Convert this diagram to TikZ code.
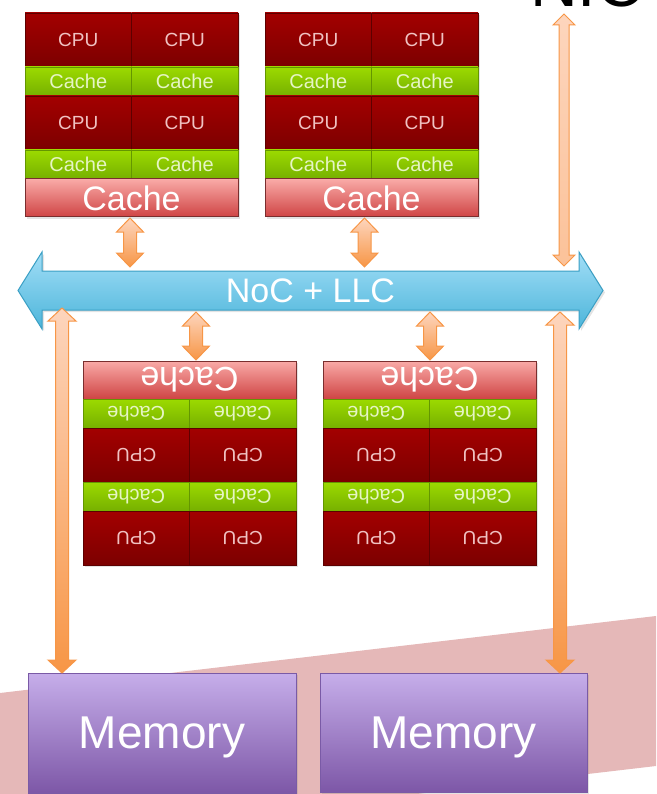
\documentclass[tikz,border=0pt]{standalone}
\usepackage{fontspec}
\usepackage{graphicx}
\setmainfont{Liberation Sans}
\usetikzlibrary{calc,shadows}
\definecolor{cpuA}{HTML}{A30000}
\definecolor{cpuB}{HTML}{7C0000}
\definecolor{cpuT}{HTML}{F0C2C2}
\definecolor{grnA}{HTML}{9CDA00}
\definecolor{grnB}{HTML}{76B000}
\definecolor{grnT}{HTML}{E6F5C4}
\definecolor{bcA}{HTML}{F9AAA7}
\definecolor{bcB}{HTML}{CF4444}
\definecolor{bcE}{HTML}{7A2E2E}
\definecolor{nocA}{HTML}{A2DEF7}
\definecolor{nocB}{HTML}{4CB5DA}
\definecolor{nocE}{HTML}{3A9FC4}
\definecolor{memA}{HTML}{C6AEEA}
\definecolor{memB}{HTML}{7D57A7}
\definecolor{memE}{HTML}{7A5AA6}
\definecolor{orgA}{HTML}{FDD5BD}
\definecolor{orgB}{HTML}{F79646}
\definecolor{stripeC}{HTML}{E5B8B8}
\newcommand{\flip}[1]{\rotatebox[origin=c]{180}{#1}}
\newcommand{\vdarrow}[6]{%
  \draw[#6] let \p1=#1, \p2=#2 in
  (\x1,\y1) -- (\x1+#4,\y1-#5) -- (\x1+#3,\y1-#5) -- (\x1+#3,\y2+#5)
  -- (\x1+#4,\y2+#5) -- (\x1,\y2) -- (\x1-#4,\y2+#5) -- (\x1-#3,\y2+#5)
  -- (\x1-#3,\y1-#5) -- (\x1-#4,\y1-#5) -- cycle;}
\tikzset{
  softshadow/.style={drop shadow={opacity=0.22, shadow xshift=2pt, shadow yshift=-2pt}},
  cell/.style={inner sep=0pt, outer sep=0pt, anchor=north west},
  cpu/.style={cell, minimum width=106.5pt, minimum height=54pt,
    top color=cpuA, bottom color=cpuB, draw=cpuB!75!black, line width=0.3pt,
    text=cpuT, font=\fontsize{19}{19}\selectfont, softshadow},
  l1/.style={cell, minimum width=106.5pt, minimum height=29pt,
    top color=grnA, bottom color=grnB, draw=grnB!85!black, line width=0.3pt,
    text=grnT, font=\fontsize{20}{20}\selectfont, softshadow},
  big/.style={cell, minimum width=213pt, minimum height=38pt,
    top color=bcA, bottom color=bcB, draw=bcE, line width=1pt,
    text=white, font=\fontsize{34}{34}\selectfont, softshadow},
  mem/.style={cell, minimum height=120pt, text depth=0pt,
    top color=memA, bottom color=memB, draw=memE, line width=1pt,
    text=white, font=\fontsize{46}{46}\selectfont, softshadow},
  noctext/.style={inner sep=0pt, outer sep=0pt, minimum width=537pt, minimum height=39pt,
    text=white, font=\fontsize{34}{34}\selectfont},
  nocbar/.style={top color=nocA, bottom color=nocB, draw=nocE, line width=1pt, line join=miter, softshadow},
  orarrow/.style={top color=orgA, bottom color=orgB, draw=orgB, line width=1pt, line join=miter},
  orarrowlight/.style={top color=orgA, bottom color=orgA!70!orgB, draw=orgB, line width=1pt, line join=miter}
}
\begin{document}
\begin{tikzpicture}[x=1pt, y=-1pt]
\useasboundingbox (0,0) rectangle (656,794);
% background stripe
\fill[stripeC] (0,693) -- (656,616) -- (656,766) -- (417,794) -- (0,794) -- cycle;
% title fragment (cut off by the top edge, as in the reference)
\begin{scope}
\clip (0,0) rectangle (656,794);
\node[anchor=base west, inner sep=0pt, font=\fontsize{66}{66}\selectfont] (nic) at (530,7) {NIC};
\end{scope}
\coordinate (nicpt) at (564,14);

% top-left block
\node[cpu] (tlcpu1) at (25,13) {CPU};
\node[cpu] (tlcpu2) at (131.5,13) {CPU};
\node[l1] (tll1a) at (25,67) {Cache};
\node[l1] (tll1b) at (131.5,67) {Cache};
\node[cpu] (tlcpu3) at (25,96) {CPU};
\node[cpu] (tlcpu4) at (131.5,96) {CPU};
\node[l1] (tll1c) at (25,150) {Cache};
\node[l1] (tll1d) at (131.5,150) {Cache};
\node[big] (tlbig) at (25,179) {Cache};

% top-right block
\node[cpu] (trcpu1) at (265,13) {CPU};
\node[cpu] (trcpu2) at (371.5,13) {CPU};
\node[l1] (trl1a) at (265,67) {Cache};
\node[l1] (trl1b) at (371.5,67) {Cache};
\node[cpu] (trcpu3) at (265,96) {CPU};
\node[cpu] (trcpu4) at (371.5,96) {CPU};
\node[l1] (trl1c) at (265,150) {Cache};
\node[l1] (trl1d) at (371.5,150) {Cache};
\node[big] (trbig) at (265,179) {Cache};

% bottom-left block (upside down)
\node[big] (blbig) at (83,361) {\flip{Cache}};
\node[l1] (bll1a) at (83,399) {\flip{Cache}};
\node[l1] (bll1b) at (189.5,399) {\flip{Cache}};
\node[cpu] (blcpu1) at (83,428) {\flip{CPU}};
\node[cpu] (blcpu2) at (189.5,428) {\flip{CPU}};
\node[l1] (bll1c) at (83,482) {\flip{Cache}};
\node[l1] (bll1d) at (189.5,482) {\flip{Cache}};
\node[cpu] (blcpu3) at (83,511) {\flip{CPU}};
\node[cpu] (blcpu4) at (189.5,511) {\flip{CPU}};

% bottom-right block (upside down)
\node[big] (brbig) at (323,361) {\flip{Cache}};
\node[l1] (brl1a) at (323,399) {\flip{Cache}};
\node[l1] (brl1b) at (429.5,399) {\flip{Cache}};
\node[cpu] (brcpu1) at (323,428) {\flip{CPU}};
\node[cpu] (brcpu2) at (429.5,428) {\flip{CPU}};
\node[l1] (brl1c) at (323,482) {\flip{Cache}};
\node[l1] (brl1d) at (429.5,482) {\flip{Cache}};
\node[cpu] (brcpu3) at (323,511) {\flip{CPU}};
\node[cpu] (brcpu4) at (429.5,511) {\flip{CPU}};

% NoC + LLC bar
\draw[nocbar] (18,290.5) -- (42,252) -- (42,271) -- (579,271) -- (579,252) -- (603,290.5)
  -- (579,329) -- (579,310) -- (42,310) -- (42,329) -- cycle;
\node[noctext] (noc) at (310.5,290.5) {NoC + LLC};

% memories
\node[mem, minimum width=268pt] (mem1) at (28,673) {Memory};
\node[mem, minimum width=267pt, minimum height=119pt] (mem2) at (320,673) {Memory};

% short connectors
\vdarrow{($(tlbig.south)+(-1.5,1)$)}{($(noc.north)+(0,-4)$)}{6.5pt}{13.5pt}{14pt}{orarrow}
\vdarrow{($(trbig.south)+(-7,1)$)}{($(noc.north)+(0,-4)$)}{6.5pt}{13.5pt}{14pt}{orarrow}
\vdarrow{($(noc.south)+(-114.5,2)$)}{($(blbig.north)+(0,-1)$)}{6.5pt}{13.5pt}{14pt}{orarrow}
\vdarrow{($(noc.south)+(119.5,2)$)}{($(brbig.north)+(0,-1)$)}{6.5pt}{13.5pt}{14pt}{orarrow}

% long connectors
\vdarrow{(nicpt)}{($(noc.north)+(0,-5)$)}{5pt}{11pt}{11pt}{orarrowlight}
\vdarrow{($(noc.south west)+(20,-2)$)}{(mem1.north)}{6.5pt}{14pt}{13pt}{orarrow}
\vdarrow{($(noc.south east)+(-19,2)$)}{(mem2.north)}{6.5pt}{14pt}{13pt}{orarrow}
\end{tikzpicture}
\end{document}
